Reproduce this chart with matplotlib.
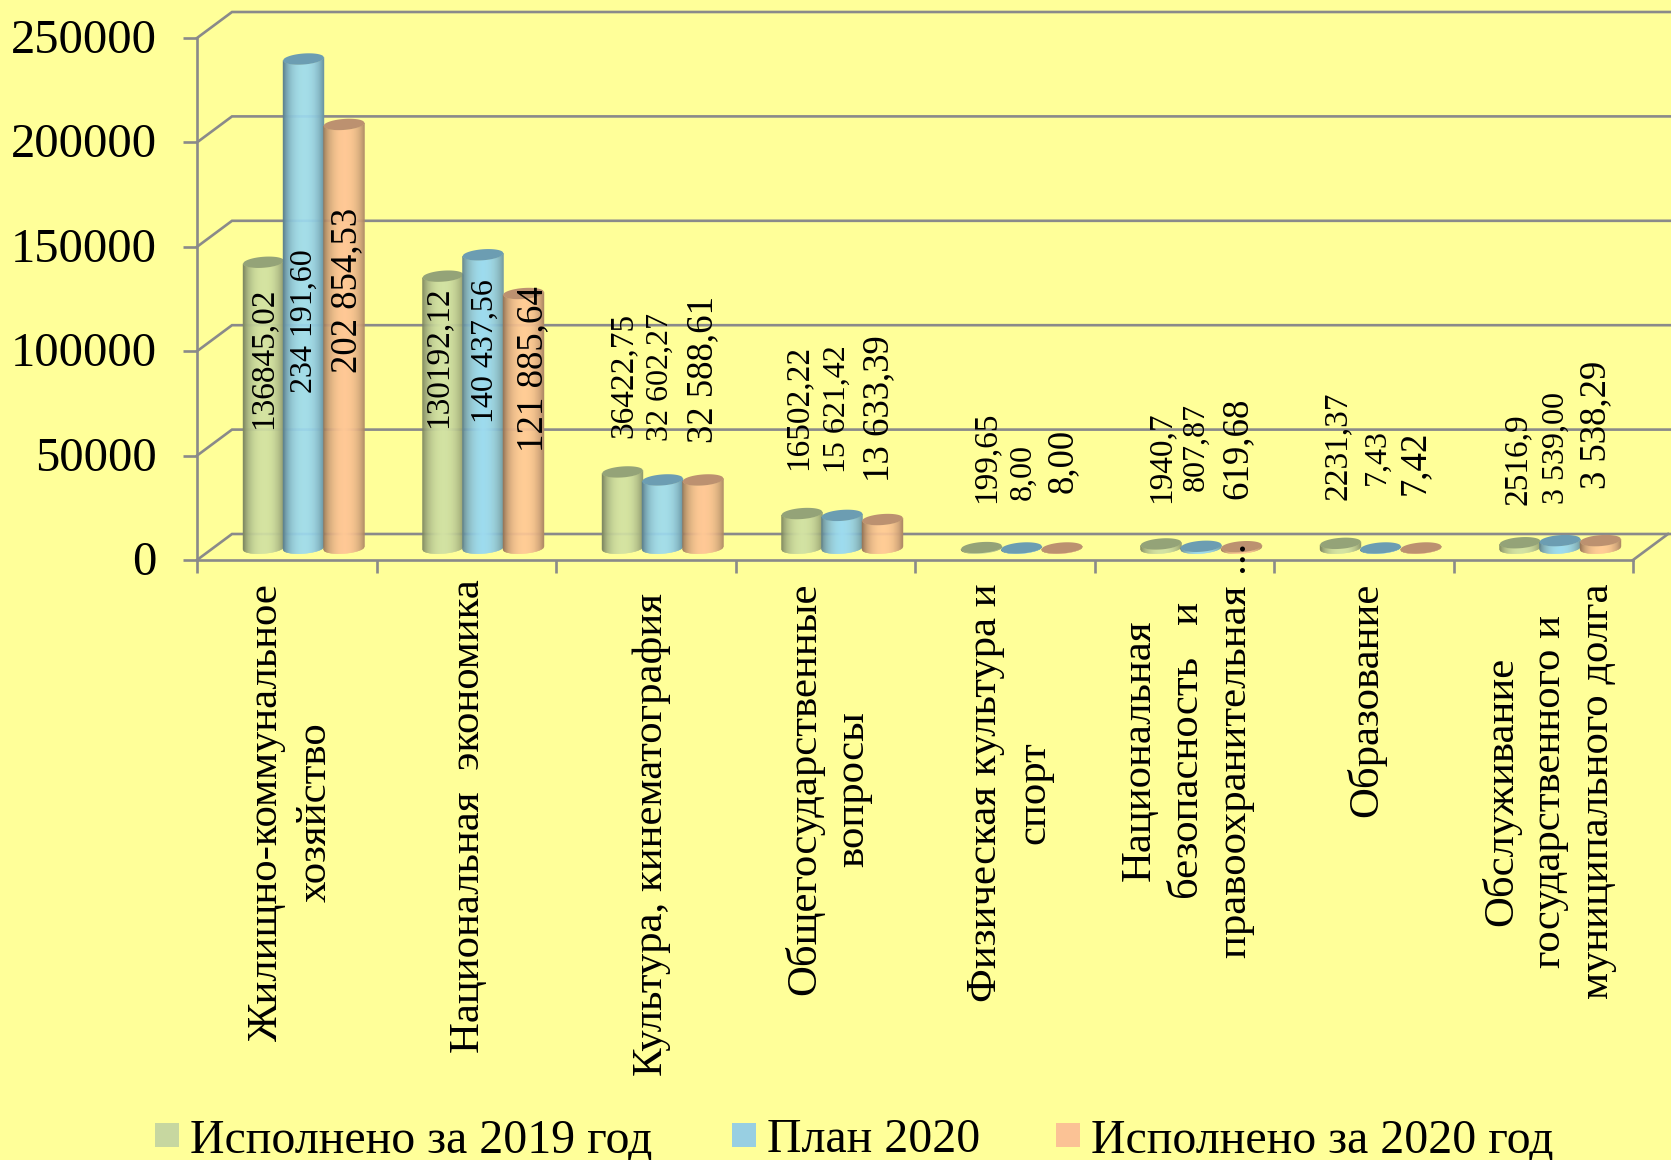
import numpy as np
import matplotlib
matplotlib.use("Agg")
import matplotlib.pyplot as plt
from matplotlib.collections import PolyCollection
from matplotlib.patches import Rectangle
from matplotlib.transforms import Affine2D

# ---------- data ----------
categories = [
    "Жилищно-коммунальное\nхозяйство",
    "Национальная  экономика",
    "Культура, кинематография",
    "Общегосударственные\nвопросы",
    "Физическая культура и\nспорт",
    "Национальная\nбезопасность   и\nправоохранительная ...",
    "Образование",
    "Обслуживание\nгосударственного и\nмуниципального долга",
]
series_names = ["Исполнено за 2019 год", "План 2020", "Исполнено за 2020 год"]
values_2019 = [136845.02, 130192.12, 36422.75, 16502.22, 199.65, 1940.7, 2231.37, 2516.9]
values_plan = [234191.60, 140437.56, 32602.27, 15621.42, 8.00, 807.87, 7.43, 3539.00]
values_2020 = [202854.53, 121885.64, 32588.61, 13633.39, 8.00, 619.68, 7.42, 3538.29]
labels_2019 = ["136845,02", "130192,12", "36422,75", "16502,22", "199,65", "1940,7", "2231,37", "2516,9"]
labels_plan = ["234 191,60", "140 437,56", "32 602,27", "15 621,42", "8,00", "807,87", "7,43", "3 539,00"]
labels_2020 = ["202 854,53", "121 885,64", "32 588,61", "13 633,39", "8,00", "619,68", "7,42", "3 538,29"]
y_ticks = [0, 50000, 100000, 150000, 200000, 250000]

# ---------- layout (pixels of the 1671x1160 canvas) ----------
W, H = 1671, 1160
AX_L, AX_R, AX_T, AX_B = 197, 1633, 38, 560
DEPTH_X, DEPTH_Y = 35, 26
BAR_OFFS = [66.5, 106.5, 147.0]
BAR_HALF = 20.5
BAR_BASE = 12
ELL_B, ELL_TILT = 5.5, 1.5
label_x = [[263, 438, 623, 798, 986, 1161, 1338, 1518],
           [304, 485, 660, 837, 1023, 1196, 1377, 1556],
           [347, 533, 703, 879, 1063, 1237, 1415, 1596]]
label_y = [[358, 357, 375, 407, 457, 457, 446, 459],
           [321, 351, 377, 409, 472, 447, 457, 448],
           [290, 369, 369, 409, 461, 448, 463, 425]]
label_size = [24, 23, 26.5]
cat_x = [291, 469, 652, 828, 1010, 1188, 1366, 1549]
cat_y = [812, 816, 835, 789, 793, 750, 700, 791]

# ---------- style ----------
BG = "#FFFF99"
LINE = "#8A8A8A"
LW = 1.9
SERIF = "Liberation Serif"
body_colors = [np.array([0xD2, 0xE2, 0xA3]), np.array([0x9D, 0xDB, 0xF0]), np.array([0xFF, 0xC8, 0x95])]
top_colors = ["#94A378", "#6C9DB2", "#BC9170"]
legend_colors = ["#C7D7A0", "#98CFE2", "#FBC295"]

fig = plt.figure(figsize=(W / 100, H / 100), dpi=100, facecolor=BG)
ax = fig.add_axes([AX_L / W, 1 - AX_B / H, (AX_R - AX_L) / W, (AX_B - AX_T) / H])
ax.set_facecolor("none")
ax.set_xlim(0, len(categories))
ax.set_ylim(0, y_ticks[-1])
px_x = len(categories) / (AX_R - AX_L)
px_y = y_ticks[-1] / (AX_B - AX_T)

for s in ("top", "right"):
    ax.spines[s].set_visible(False)
for s in ("left", "bottom"):
    ax.spines[s].set_color(LINE)
    ax.spines[s].set_linewidth(LW)
ax.set_xticks(range(len(categories) + 1))
ax.set_xticklabels([])
ax.set_yticks(y_ticks)
ax.set_yticklabels([str(v) for v in y_ticks], fontfamily=SERIF, fontsize=35)
ax.tick_params(axis="y", length=10, width=LW, color=LINE, pad=19)
ax.tick_params(axis="x", length=9.5, width=LW, color=LINE)
for lab in ax.get_yticklabels():
    lab.set_transform(lab.get_transform() + Affine2D().translate(0, 2))

# back wall lines and floor
dx, dy = DEPTH_X * px_x, DEPTH_Y * px_y
n = len(categories)
for v in y_ticks:
    ax.plot([0, dx, n + dx + 2 * px_x], [v, v + dy, v + dy], color=LINE, lw=LW,
            clip_on=False, zorder=1, solid_joinstyle="miter")
ax.plot([n, n + dx], [0, dy], color=LINE, lw=LW, clip_on=False, zorder=1)

# cylinders
us = np.linspace(-1, 1, 43)


def shade(u):
    return 0.60 + 0.40 * (1 - np.abs(u - 0.05) ** 2.2).clip(0) ** 0.8


def edge(c, u, sign):
    return c + sign * ELL_B * px_y * np.sqrt(np.clip(1 - u * u, 0, 1)) + ELL_TILT * px_y * u


all_values = [values_2019, values_plan, values_2020]
zo = 3
for i in range(n):
    for j, vals in enumerate(all_values):
        cx = i + BAR_OFFS[j] * px_x
        base = BAR_BASE * px_y
        top = base + vals[i]
        xs = cx + us * BAR_HALF * px_x
        polys, cols = [], []
        for k in range(len(us) - 1):
            u0, u1 = us[k], us[k + 1]
            polys.append([(xs[k], edge(base, u0, -1)), (xs[k + 1], edge(base, u1, -1)),
                          (xs[k + 1], edge(top, u1, -1)), (xs[k], edge(top, u0, -1))])
            cols.append(np.append(body_colors[j] / 255 * shade((u0 + u1) / 2), 1))
        pc = PolyCollection(polys, facecolors=cols, edgecolors=cols, linewidths=0.3,
                            zorder=zo, clip_on=False)
        ax.add_collection(pc)
        ell_x = np.concatenate([xs, xs[::-1]])
        ell_y = np.concatenate([edge(top, us, 1), edge(top, us[::-1], -1)])
        ax.fill(ell_x, ell_y, color=top_colors[j], lw=0, zorder=zo + 0.5, clip_on=False)
        zo += 1

# data labels
all_labels = [labels_2019, labels_plan, labels_2020]
for j, labs in enumerate(all_labels):
    for i, t in enumerate(labs):
        fig.text(label_x[j][i] / W, 1 - label_y[j][i] / H, t, rotation=90, ha="center", va="center",
                 fontfamily=SERIF, fontsize=label_size[j], color="black", zorder=50)

# category labels
for i, t in enumerate(categories):
    fig.text(cat_x[i] / W, 1 - cat_y[i] / H, t, rotation=90, ha="center", va="center",
             multialignment="center", linespacing=1.33, fontfamily=SERIF, fontsize=30.8, color="black")

# legend
leg_sq = [155, 732, 1056]
leg_tx = [190, 767, 1091]
for k, name in enumerate(series_names):
    fig.add_artist(Rectangle((leg_sq[k] / W, 1 - 1147 / H), 24 / W, 24 / H, transform=fig.transFigure,
                             facecolor=legend_colors[k], edgecolor="none"))
    fig.text(leg_tx[k] / W, 1 - 1152 / H, name, ha="left", va="baseline",
             fontfamily=SERIF, fontsize=34.5, color="black")

fig.savefig("out.png", dpi=100, facecolor=BG)
